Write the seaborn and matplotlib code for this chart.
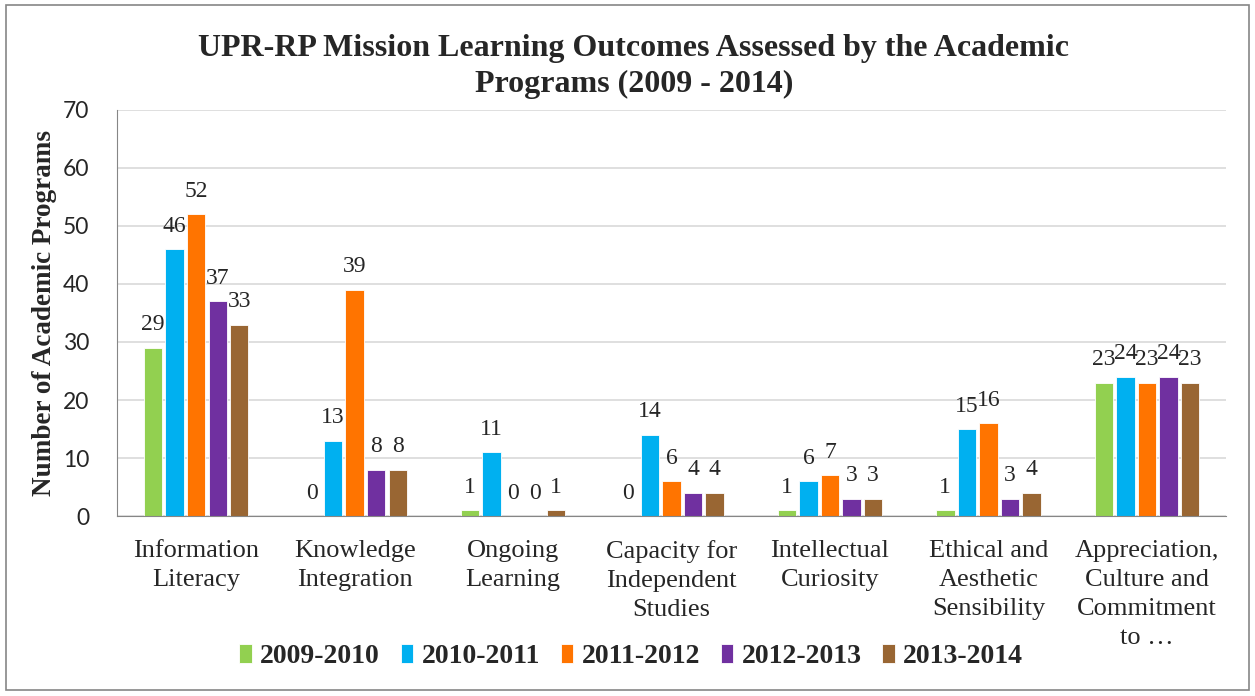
import matplotlib
matplotlib.use('Agg')
import matplotlib.pyplot as plt
import pandas as pd
import seaborn as sns
from matplotlib.patches import Rectangle

# chart data
categories = ['Information\nLiteracy', 'Knowledge\nIntegration', 'Ongoing\nLearning',
              'Capacity for\nIndependent\nStudies', 'Intellectual\nCuriosity',
              'Ethical and\nAesthetic\nSensibility',
              'Appreciation,\nCulture and\nCommitment\nto \u2026']
years = ['2009-2010', '2010-2011', '2011-2012', '2012-2013', '2013-2014']
v2009 = [29, 0, 1, 0, 1, 1, 23]
v2010 = [46, 13, 11, 14, 6, 15, 24]
v2011 = [52, 39, 0, 6, 7, 16, 23]
v2012 = [37, 8, 0, 4, 3, 3, 24]
v2013 = [33, 8, 1, 4, 3, 4, 23]
colors = ['#92D050', '#00B0F0', '#FF7400', '#7030A0', '#996633']

# long format for seaborn
rows = []
for yr, vals in zip(years, [v2009, v2010, v2011, v2012, v2013]):
    for cat, v in zip(categories, vals):
        rows.append({'outcome': cat, 'year': yr, 'value': v})
df = pd.DataFrame(rows)

sns.set_style('white')
serif = 'Liberation Serif'

fig = plt.figure(figsize=(12.55, 6.96), dpi=100)
ax = fig.add_axes([0.0932, 0.2586, 0.8838, 0.5834])

sns.barplot(data=df, x='outcome', y='value', hue='year', order=categories,
            hue_order=years, palette=colors, width=0.68, gap=0.15,
            edgecolor='white', linewidth=0.6, saturation=1, ax=ax)

# data labels
for cont in ax.containers:
    ax.bar_label(cont, fmt='%d', padding=9, fontsize=17, family=serif)

ax.set_ylim(0, 70)
ax.set_yticks(range(0, 71, 10))
ax.yaxis.grid(True, color='#D9D9D9', linewidth=1.2)
ax.set_axisbelow(True)
for s in ['top', 'right']:
    ax.spines[s].set_visible(False)
ax.spines['left'].set_color('#868686')
ax.spines['bottom'].set_color('#868686')
ax.tick_params(axis='y', length=0, labelsize=16.5, pad=20)
ax.tick_params(axis='x', length=0, labelsize=19, pad=17)
for lab in ax.get_yticklabels():
    lab.set_family('Lato')
for lab in ax.get_xticklabels():
    lab.set_family(serif)
    lab.set_linespacing(1.42)
ax.set_xlabel('')
ax.set_ylabel('Number of Academic Programs', fontsize=19.5, fontweight='bold',
              family=serif, labelpad=4)

fig.suptitle('UPR-RP Mission Learning Outcomes Assessed by the Academic\nPrograms (2009 - 2014)',
             x=0.505, y=0.951, fontsize=23, fontweight='bold', family=serif,
             linespacing=1.32)

# legend at bottom
handles, labels = ax.get_legend_handles_labels()
ax.legend_.remove()
fig.legend(handles, labels, loc='center', bbox_to_anchor=(0.503, 0.057), ncol=5,
           frameon=False, prop={'family': serif, 'weight': 'bold', 'size': 20},
           handlelength=0.45, handleheight=0.7, handletextpad=0.3, columnspacing=0.75)

# outer border
fig.patches.append(Rectangle((0.005, 0.008), 0.99, 0.985, transform=fig.transFigure,
                             fill=False, edgecolor='#868686', linewidth=1.2))

fig.savefig('out.png', dpi=100)
